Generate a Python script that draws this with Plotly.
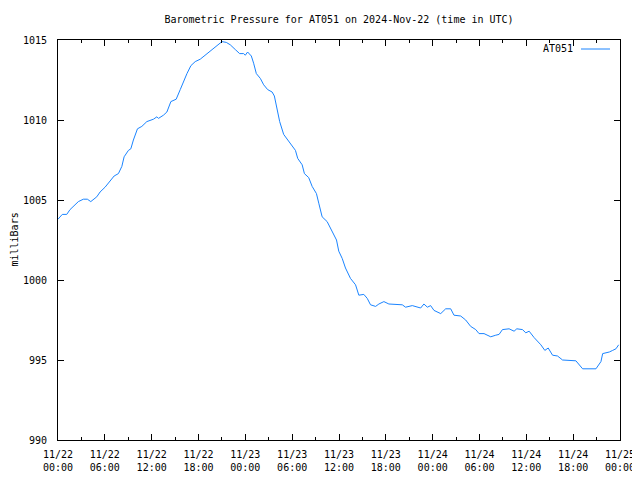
import pandas as pd
import plotly.graph_objects as go

start = pd.Timestamp("2024-11-22 00:00")
end = pd.Timestamp("2024-11-25 00:00")

hours = [0.0, 0.55, 1.12, 1.54, 2.61, 3.25, 3.76, 4.2, 4.97, 5.39, 6.03, 6.67, 7.19, 7.74,
         8.18, 8.47, 9.02, 9.33, 9.66, 10.18, 10.74, 11.38, 12.23, 12.67, 12.87, 13.51,
         13.95, 14.46, 15.14, 15.66, 16.08, 16.52, 17.03, 17.58, 18.22, 18.87, 19.73,
         20.28, 21.01, 21.56, 22.07, 22.72, 23.27, 23.78, 24.0, 24.29, 24.77, 25.06,
         25.41, 25.92, 26.35, 26.86, 27.43, 27.72, 28.07, 28.4, 28.91, 29.43, 29.99,
         30.42, 30.71, 31.28, 31.57, 32.12, 32.56, 33.11, 33.41, 33.84, 34.48, 35.13,
         35.68, 35.97, 36.41, 36.83, 37.47, 38.12, 38.54, 39.18, 39.62, 40.04, 40.69,
         41.11, 41.75, 42.39, 44.11, 44.53, 45.39, 46.46, 46.88, 47.32, 47.74, 48.17,
         49.03, 49.67, 50.31, 50.73, 51.59, 52.23, 52.87, 53.52, 53.94, 54.58, 55.44,
         56.08, 56.51, 56.94, 57.79, 58.43, 58.78, 59.51, 59.93, 60.36, 61.0, 61.86,
         62.37, 62.8, 63.36, 64.0, 64.64, 66.35, 67.21, 68.92, 69.56, 69.78, 70.63,
         71.06, 71.48, 71.83]

pressure = [1003.8, 1004.1, 1004.1, 1004.4, 1004.9, 1005.05, 1005.05, 1004.9, 1005.2,
            1005.5, 1005.8, 1006.15, 1006.5, 1006.65, 1007.1, 1007.7, 1008.1, 1008.2,
            1008.75, 1009.45, 1009.6, 1009.9, 1010.05, 1010.2, 1010.1, 1010.3, 1010.5,
            1011.15, 1011.3, 1011.9, 1012.4, 1012.9, 1013.4, 1013.65, 1013.8, 1014.05,
            1014.4, 1014.6, 1014.9, 1014.85, 1014.7, 1014.4, 1014.15, 1014.15, 1014.05,
            1014.25, 1014.0, 1013.55, 1012.9, 1012.6, 1012.2, 1011.9, 1011.75, 1011.5,
            1010.75, 1009.9, 1009.1, 1008.75, 1008.45, 1008.1, 1007.6, 1007.2, 1006.65,
            1006.4, 1005.85, 1005.4, 1004.8, 1003.95, 1003.65, 1003.0, 1002.5, 1001.8,
            1001.35, 1000.75, 1000.1, 999.7, 999.05, 999.1, 998.85, 998.45, 998.35,
            998.5, 998.65, 998.5, 998.45, 998.3, 998.4, 998.25, 998.5, 998.3, 998.4,
            998.1, 997.9, 998.2, 998.2, 997.8, 997.75, 997.5, 997.1, 996.9, 996.65,
            996.65, 996.45, 996.55, 996.6, 996.9, 996.95, 996.8, 996.95, 996.9, 996.7,
            996.8, 996.4, 995.95, 995.6, 995.75, 995.3, 995.25, 995.0, 994.95, 994.45,
            994.45, 994.9, 995.4, 995.5, 995.6, 995.7, 995.95]

tick_hours = [0, 6, 12, 18, 24, 30, 36, 42, 48, 54, 60, 66, 72]
tick_labels = ["11/22<br>00:00", "11/22<br>06:00", "11/22<br>12:00", "11/22<br>18:00",
               "11/23<br>00:00", "11/23<br>06:00", "11/23<br>12:00", "11/23<br>18:00",
               "11/24<br>00:00", "11/24<br>06:00", "11/24<br>12:00", "11/24<br>18:00",
               "11/25<br>00:00"]
minor_hours = [3, 9, 15, 21, 27, 33, 39, 45, 51, 57, 63, 69]
y_ticks = [990, 995, 1000, 1005, 1010, 1015]

times = [start + pd.Timedelta(hours=h) for h in hours]
tick_times = [start + pd.Timedelta(hours=h) for h in tick_hours]
minor_times = [start + pd.Timedelta(hours=h) for h in minor_hours]

FONT = "DejaVu Sans Mono"
LINE_COLOR = "#1a84ff"
# the page body adds an 8px offset, so the figure is 632x472 placed at (8, 8)
OFF = 8
W, H = 640 - OFF, 480 - OFF
PX0, PX1, PY0, PY1 = 58, 620, 40, 440  # plot area in screen pixels
L, T = PX0 - OFF, PY0 - OFF
R, B = W - (PX1 - OFF), H - (PY1 - OFF)
PW, PH = PX1 - PX0, PY1 - PY0


def px(xs):
    return (xs - PX0) / PW


def py(ys):
    return (PY1 - ys) / PH


fig = go.Figure()
fig.add_trace(go.Scatter(x=times, y=pressure, mode="lines", name="AT051",
                         line=dict(color=LINE_COLOR, width=1), showlegend=False))

fig.update_layout(
    width=W, height=H,
    margin=dict(l=L, r=R, t=T, b=B, autoexpand=False),
    paper_bgcolor="white", plot_bgcolor="white",
    font=dict(family=FONT, size=10, color="black"),
    title=dict(text="Barometric Pressure for AT051 on 2024-Nov-22 (time in UTC)",
               x=0.5, xref="paper", xanchor="center", y=1 - (19 - OFF) / H, yanchor="middle",
               font=dict(family=FONT, size=10)),
    xaxis=dict(range=[start, end], tickmode="array", tickvals=tick_times, ticktext=tick_labels,
               ticks="inside", ticklen=6, tickcolor="black", showline=True, linecolor="black",
               linewidth=1, mirror="allticks", showgrid=False, zeroline=False,
               automargin=False, ticklabelstandoff=5,
               minor=dict(tickmode="array", tickvals=minor_times, ticks="inside", ticklen=3,
                          tickcolor="black", showgrid=False)),
    yaxis=dict(range=[990, 1015], tickmode="array", tickvals=y_ticks,
               ticks="inside", ticklen=6, tickcolor="black", showline=True, linecolor="black",
               linewidth=1, mirror="allticks", showgrid=False, zeroline=False,
               automargin=False, ticklabelstandoff=8),
)

fig.add_annotation(text="milliBars", xref="paper", yref="paper", x=px(13.5), y=0.5,
                   xanchor="center", yanchor="middle", textangle=-90, showarrow=False,
                   font=dict(family=FONT, size=10))
fig.add_annotation(text="AT051", xref="paper", yref="paper", x=px(575),
                   y=py(49), xanchor="right", yanchor="middle", showarrow=False,
                   font=dict(family=FONT, size=10))
fig.add_shape(type="line", xref="paper", yref="paper", x0=px(581), x1=px(610),
              y0=py(49), y1=py(49), line=dict(color=LINE_COLOR, width=1))

fig.write_html("out.html")
